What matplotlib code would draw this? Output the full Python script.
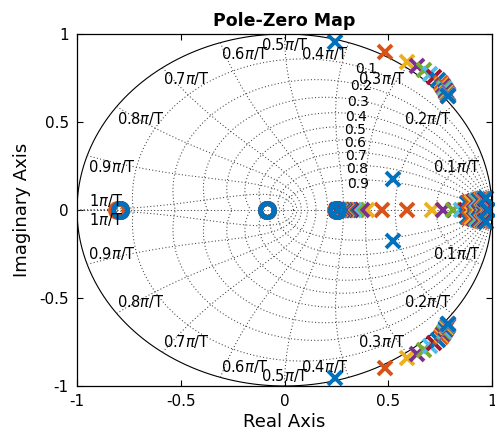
import numpy as np
import matplotlib
matplotlib.use("Agg")
import matplotlib.pyplot as plt

# MATLAB default colour order
colors = ['#0072BD', '#D95319', '#EDB120', '#7E2F8E', '#77AC30', '#4DBEEE', '#A2142F']
nan = np.nan

# oscillatory pole pair of each system (upper half, conjugate drawn too)
osc_re = [0.243, 0.484, 0.589, 0.639, 0.672, 0.700, 0.722, 0.742, 0.752, 0.759, 0.765,
          0.770, 0.774, 0.777, 0.780, 0.782, 0.784, 0.786, 0.787, 0.788, 0.789, 0.790]
osc_im = [0.957, 0.900, 0.843, 0.818, 0.795, 0.774, 0.755, 0.737, 0.724, 0.712, 0.702,
          0.693, 0.685, 0.678, 0.672, 0.667, 0.662, 0.658, 0.655, 0.652, 0.650, 0.648]

# two real poles (system 1 has a complex pair there instead)
fast_re = [nan, 0.470, 0.396, 0.372, 0.350, 0.335, 0.322, 0.312, 0.303, 0.296, 0.290,
           0.284, 0.279, 0.275, 0.271, 0.268, 0.265, 0.262, 0.260, 0.258, 0.253, 0.256]
slow_re = [nan, 0.590, 0.709, 0.765, 0.813, 0.850, 0.873, 0.890, 0.905, 0.917, 0.927,
           0.935, 0.942, 0.948, 0.953, 0.958, 0.962, 0.966, 0.970, 0.973, 0.976, 0.979]
s1_pair_re = 0.524
s1_pair_im = 0.176

# lightly damped pair close to z = 1 for the later systems
near1_re = [nan] * 7 + [0.878, 0.890, 0.902, 0.912, 0.921, 0.929, 0.936, 0.942, 0.947,
                        0.952, 0.956, 0.960, 0.963, 0.966, 0.969]
near1_im = [nan] * 7 + [0.040, 0.043, 0.046, 0.049, 0.052, 0.054, 0.056, 0.058, 0.060,
                        0.061, 0.062, 0.063, 0.064, 0.065, 0.066]

# zeros
zero_a = [-0.795, -0.805] + [-0.795] * 20
zero_b = [-0.086] * 22
zero_c = [0.251, 0.247] + [0.251] * 20
zero_d = [nan] * 8 + [0.945] + [nan] * 13

zetas = [0.1, 0.2, 0.3, 0.4, 0.5, 0.6, 0.7, 0.8, 0.9]
wn_steps = [0.1, 0.2, 0.3, 0.4, 0.5, 0.6, 0.7, 0.8, 0.9, 1]
wn_lab_x = [0.945, 0.805, 0.585, 0.31, 0.0, -0.305, -0.585, -0.805, -0.945, -0.94]
wn_lab_y = [0.25, 0.52, 0.75, 0.89, 0.94, 0.89, 0.75, 0.52, 0.25, 0.056]

fig = plt.figure(figsize=(4.95, 4.36), dpi=100)
ax = fig.add_axes([0.1556, 0.1147, 0.8384, 0.8073])

grid_kw = dict(color='0.25', lw=0.75, dashes=(1, 2.2))

# unit circle
t = np.linspace(0, 2 * np.pi, 400)
ax.plot(np.cos(t), np.sin(t), color='black', lw=0.8)
ax.plot([-1, 1], [0, 0], **grid_kw)

# constant damping spirals
th = np.linspace(0, np.pi, 200)
for zt in zetas:
    m = zt / np.sqrt(1 - zt ** 2)
    zz = np.exp(th * (-m + 1j))
    ax.plot(zz.real, zz.imag, **grid_kw)
    ax.plot(zz.real, -zz.imag, **grid_kw)
    # label on the spiral
    zl = np.exp(1.19 * (-zt + 1j * np.sqrt(1 - zt ** 2)))
    ax.text(zl.real + 0.005, zl.imag - 0.02, f'{zt:.1f}', fontsize=10,
            ha='left', va='center')

# constant natural frequency curves
zg = np.linspace(0, 1, 200)
for k, w in enumerate(wn_steps):
    wn = w * np.pi
    zz = np.exp(-zg * wn + 1j * wn * np.sqrt(1 - zg ** 2))
    ax.plot(zz.real, zz.imag, **grid_kw)
    ax.plot(zz.real, -zz.imag, **grid_kw)
    lab = '1' if w == 1 else f'{w:.1f}'
    ha = 'right' if k < 4 else ('center' if k == 4 else 'left')
    for sgn in (1, -1):
        ax.text(wn_lab_x[k], sgn * wn_lab_y[k], lab + r'$\pi$/T', fontsize=10.5,
                ha=ha, va='center')

mk = dict(linestyle='none', clip_on=False)
for i in range(len(osc_re)):
    c = colors[i % 7]
    pre = [osc_re[i], osc_re[i]]
    pim = [osc_im[i], -osc_im[i]]
    if np.isnan(fast_re[i]):
        pre += [s1_pair_re, s1_pair_re]
        pim += [s1_pair_im, -s1_pair_im]
    else:
        pre += [fast_re[i], slow_re[i]]
        pim += [0, 0]
    if not np.isnan(near1_re[i]):
        pre += [near1_re[i], near1_re[i]]
        pim += [near1_im[i], -near1_im[i]]
    ax.plot(pre, pim, marker='x', color=c, ms=10, mew=2.8, **mk)
    zre = [z for z in (zero_a[i], zero_b[i], zero_c[i], zero_d[i]) if not np.isnan(z)]
    ax.plot(zre, [0] * len(zre), marker='o', mfc='none', mec=c, ms=10, mew=3.5, **mk)

ax.set_xlim(-1, 1)
ax.set_ylim(-1, 1)
ax.set_xticks([-1, -0.5, 0, 0.5, 1])
ax.set_yticks([-1, -0.5, 0, 0.5, 1])
ax.set_xticklabels(['-1', '-0.5', '0', '0.5', '1'])
ax.set_yticklabels(['-1', '-0.5', '0', '0.5', '1'])
ax.tick_params(direction='in', length=4, width=0.8, labelsize=11,
               top=True, right=True, pad=6)
for s in ax.spines.values():
    s.set_linewidth(0.9)

ax.set_xlabel('Real Axis', fontsize=13, labelpad=3)
ax.set_ylabel('Imaginary Axis', fontsize=13, labelpad=6)
ax.set_title('Pole-Zero Map', fontsize=12.5, fontweight='bold', pad=6)

fig.savefig('out.png', dpi=100)
